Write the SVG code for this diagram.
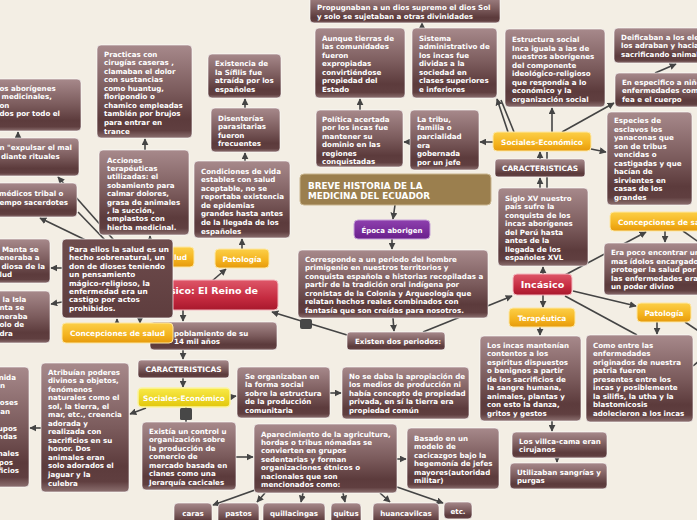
<svg xmlns="http://www.w3.org/2000/svg" width="697" height="520" viewBox="0 0 697 520">
<defs>
<linearGradient id="g" x1="0" y1="0" x2="0" y2="1"><stop offset="0" stop-color="#a7898b"/><stop offset="0.5" stop-color="#7b5b5c"/><stop offset="0.8" stop-color="#5c3b3c"/><stop offset="0.92" stop-color="#603f40"/><stop offset="1" stop-color="#8c7070"/></linearGradient>
<linearGradient id="gd" x1="0" y1="0" x2="0" y2="1"><stop offset="0" stop-color="#6e4c4d"/><stop offset="1" stop-color="#5e3d3e"/></linearGradient>
<linearGradient id="go" x1="0" y1="0" x2="0" y2="1"><stop offset="0" stop-color="#fccf48"/><stop offset="0.6" stop-color="#f4b31e"/><stop offset="1" stop-color="#e69a0c"/></linearGradient>
<linearGradient id="gy" x1="0" y1="0" x2="0" y2="1"><stop offset="0" stop-color="#f9ea48"/><stop offset="1" stop-color="#e2c70b"/></linearGradient>
<linearGradient id="gr" x1="0" y1="0" x2="0" y2="1"><stop offset="0" stop-color="#de5668"/><stop offset="0.6" stop-color="#c52b40"/><stop offset="1" stop-color="#a8182c"/></linearGradient>
<linearGradient id="gp" x1="0" y1="0" x2="0" y2="1"><stop offset="0" stop-color="#8e40ae"/><stop offset="1" stop-color="#6a1f8c"/></linearGradient>
<marker id="a" viewBox="0 0 10 10" refX="9" refY="5" markerWidth="7" markerHeight="7" markerUnits="userSpaceOnUse" orient="auto"><path d="M0,0L10,5L0,10z" fill="#444"/></marker>
</defs>
<style>
.n{fill:url(#g);stroke:#fff;stroke-opacity:.6;stroke-width:1}
.d{fill:url(#gd);stroke:#fff;stroke-opacity:.7;stroke-width:1}
.o{fill:url(#go);stroke:#fde7a3;stroke-width:1}
.y{fill:url(#gy);stroke:#fbf3a0;stroke-width:1.5}
.r{fill:url(#gr);stroke:#f4b8c0;stroke-width:1}
.t{font-family:"DejaVu Sans",Verdana,sans-serif;font-weight:bold;font-size:7.1px;fill:#fff}
.b{font-size:9.5px}
.c{text-anchor:middle}
.k line{stroke:#444;stroke-width:1.6;fill:none}
.sq{fill:#474747}
</style>
<rect width="697" height="520" fill="#f3eee4"/>

<g id="connectors" class="k">
<line x1="395" y1="205" x2="393" y2="219" marker-end="url(#a)"/>
<line x1="392" y1="239" x2="392" y2="249" marker-end="url(#a)"/>
<line x1="393" y1="318" x2="394" y2="331" marker-end="url(#a)"/>
<line x1="423" y1="332" x2="512" y2="296" marker-end="url(#a)"/>
<line x1="347" y1="335" x2="272" y2="312" marker-end="url(#a)"/>
<line x1="212" y1="281" x2="226" y2="269" marker-end="url(#a)"/>
<line x1="242" y1="249" x2="242" y2="239" marker-end="url(#a)"/>
<line x1="245" y1="161" x2="245" y2="153" marker-end="url(#a)"/>
<line x1="245" y1="108" x2="245" y2="99" marker-end="url(#a)"/>
<line x1="183" y1="310" x2="183" y2="321" marker-end="url(#a)"/>
<line x1="183" y1="350" x2="183" y2="359" marker-end="url(#a)"/>
<line x1="183" y1="378" x2="183" y2="387" marker-end="url(#a)"/>
<line x1="230" y1="397" x2="236" y2="396" marker-end="url(#a)"/>
<line x1="330" y1="393" x2="341" y2="393" marker-end="url(#a)"/>
<line x1="146" y1="408" x2="130" y2="414" marker-end="url(#a)"/>
<line x1="41" y1="428" x2="30" y2="428" marker-end="url(#a)"/>
<line x1="186" y1="407" x2="186" y2="422"/>
<line x1="236" y1="457" x2="253" y2="457" marker-end="url(#a)"/>
<line x1="397" y1="459" x2="406" y2="459" marker-end="url(#a)"/>
<line x1="258" y1="489" x2="213" y2="505" marker-end="url(#a)"/>
<line x1="265" y1="493" x2="257" y2="502" marker-end="url(#a)"/>
<line x1="303" y1="493" x2="301" y2="502" marker-end="url(#a)"/>
<line x1="343" y1="493" x2="345" y2="502" marker-end="url(#a)"/>
<line x1="380" y1="493" x2="390" y2="502" marker-end="url(#a)"/>
<line x1="397" y1="487" x2="443" y2="503" marker-end="url(#a)"/>
<line x1="543" y1="274" x2="543" y2="267" marker-end="url(#a)"/>
<line x1="540" y1="188" x2="540" y2="178" marker-end="url(#a)"/>
<line x1="540" y1="159" x2="540" y2="152" marker-end="url(#a)"/>
<line x1="547" y1="188" x2="547" y2="152"/>
<line x1="552" y1="132" x2="552" y2="108" marker-end="url(#a)"/>
<line x1="508" y1="132" x2="497" y2="99" marker-end="url(#a)"/>
<line x1="514" y1="132" x2="501" y2="100"/>
<line x1="493" y1="142" x2="480" y2="142" marker-end="url(#a)"/>
<line x1="410" y1="142" x2="404" y2="142" marker-end="url(#a)"/>
<line x1="360" y1="110" x2="360" y2="99" marker-end="url(#a)"/>
<line x1="422" y1="28" x2="422" y2="23" marker-end="url(#a)"/>
<line x1="562" y1="132" x2="614" y2="103" marker-end="url(#a)"/>
<line x1="655" y1="73" x2="676" y2="64" marker-end="url(#a)"/>
<line x1="591" y1="149" x2="606" y2="152" marker-end="url(#a)"/>
<line x1="565" y1="275" x2="646" y2="232" marker-end="url(#a)"/>
<line x1="665" y1="231" x2="665" y2="242" marker-end="url(#a)"/>
<line x1="683" y1="231" x2="700" y2="243"/>
<line x1="573" y1="291" x2="636" y2="306" marker-end="url(#a)"/>
<line x1="565" y1="296" x2="637" y2="335"/>
<line x1="657" y1="322" x2="657" y2="334" marker-end="url(#a)"/>
<line x1="685" y1="322" x2="700" y2="332"/>
<line x1="700" y1="360" x2="693" y2="366"/>
<line x1="543" y1="295" x2="543" y2="307" marker-end="url(#a)"/>
<line x1="540" y1="327" x2="540" y2="335" marker-end="url(#a)"/>
<line x1="552" y1="421" x2="552" y2="431" marker-end="url(#a)"/>
<line x1="557" y1="458" x2="557" y2="462" marker-end="url(#a)"/>
<line x1="150" y1="247" x2="150" y2="236" marker-end="url(#a)"/>
<line x1="145" y1="150" x2="145" y2="139" marker-end="url(#a)"/>
<line x1="120" y1="247" x2="58" y2="177" marker-end="url(#a)"/>
<line x1="100" y1="247" x2="40" y2="218" marker-end="url(#a)"/>
<line x1="78" y1="212" x2="105" y2="240"/>
<line x1="18" y1="138" x2="18" y2="132" marker-end="url(#a)"/>
<line x1="117" y1="323" x2="117" y2="319" marker-end="url(#a)"/>
<line x1="140" y1="318" x2="140" y2="323" marker-end="url(#a)"/>
<line x1="62" y1="268" x2="51" y2="268" marker-end="url(#a)"/>
<line x1="62" y1="302" x2="51" y2="304" marker-end="url(#a)"/>
</g>

<rect class="sq" x="300" y="319" width="12" height="10" rx="2"/>
<rect class="sq" x="180" y="408" width="12" height="12" rx="1.5"/>

<g id="propugnaban"><rect class="n" x="310" y="-5" width="190" height="28" rx="4"/>
<text class="t" x="317" y="10"><tspan>Propugnaban a un dios supremo el dios Sol</tspan><tspan x="317" dy="8.5">y solo se sujetaban a otras divinidades</tspan></text></g>

<g id="aunque"><rect class="n" x="315" y="28" width="90" height="70" rx="4"/>
<text class="t" x="322" y="40.5"><tspan>Aunque tierras de</tspan><tspan x="322" dy="8.5">las comunidades</tspan><tspan x="322" dy="8.5">fueron</tspan><tspan x="322" dy="8.5">expropiadas</tspan><tspan x="322" dy="8.5">convirtiéndose</tspan><tspan x="322" dy="8.5">propiedad del</tspan><tspan x="322" dy="8.5">Estado</tspan></text></g>

<g id="sistema"><rect class="n" x="412" y="28" width="85" height="70" rx="4"/>
<text class="t" x="419" y="40.5"><tspan>Sistema</tspan><tspan x="419" dy="8.5">administrativo de</tspan><tspan x="419" dy="8.5">los incas fue</tspan><tspan x="419" dy="8.5">dividas a la</tspan><tspan x="419" dy="8.5">sociedad en</tspan><tspan x="419" dy="8.5">clases superiores</tspan><tspan x="419" dy="8.5">e inferiores</tspan></text></g>

<g id="estructura"><rect class="n" x="505" y="29" width="100" height="78" rx="4"/>
<text class="t" x="512" y="42"><tspan>Estructura social</tspan><tspan x="512" dy="8.5">Inca iguala a las de</tspan><tspan x="512" dy="8.5">nuestros aborígenes</tspan><tspan x="512" dy="8.5">del componente</tspan><tspan x="512" dy="8.5">ideológico-religioso</tspan><tspan x="512" dy="8.5">que respondía a lo</tspan><tspan x="512" dy="8.5">económico y la</tspan><tspan x="512" dy="8.5">organización social</tspan></text></g>

<g id="deificaban"><rect class="n" x="614" y="28" width="95" height="35" rx="4"/>
<text class="t" x="621" y="39.5"><tspan>Deificaban a los elementos</tspan><tspan x="621" dy="8.5">los adraban y hacian</tspan><tspan x="621" dy="8.5">sacrificando animales</tspan></text></g>

<g id="especifico"><rect class="n" x="615" y="73" width="95" height="34" rx="4"/>
<text class="t" x="622" y="84.5"><tspan>En especifico a niños</tspan><tspan x="622" dy="8.5">enfermedades como</tspan><tspan x="622" dy="8.5">fea e el cuerpo</tspan></text></g>

<g id="especies"><rect class="n" x="607" y="112" width="85" height="93" rx="4"/>
<text class="t" x="614" y="123" fill="#f2e4e4"><tspan>Especies de</tspan><tspan x="614" dy="8.5">esclavos los</tspan><tspan x="614" dy="8.5">yanaconas que</tspan><tspan x="614" dy="8.5">son de tribus</tspan><tspan x="614" dy="8.5">vencidas o</tspan><tspan x="614" dy="8.5">castigadas y que</tspan><tspan x="614" dy="8.5">hacían de</tspan><tspan x="614" dy="8.5">sirvientes en</tspan><tspan x="614" dy="8.5">casas de los</tspan><tspan x="614" dy="8.5">grandes</tspan></text></g>

<g id="sociales-r"><rect class="o" x="493" y="132" width="98" height="19" rx="4"/>
<text class="t c" x="542" y="144.5" style="font-size:7.4px">Sociales-Económico</text></g>

<g id="caract-r"><rect class="n" x="495" y="159" width="90" height="18" rx="3"/>
<text class="t c" x="540" y="171" style="font-size:7.4px">CARACTERISTICAS</text></g>

<g id="siglo"><rect class="n" x="498" y="188" width="90" height="78" rx="4"/>
<text class="t" x="505" y="200.5"><tspan>Siglo XV nuestro</tspan><tspan x="505" dy="8.5">país sufre la</tspan><tspan x="505" dy="8.5">conquista de los</tspan><tspan x="505" dy="8.5">incas aborígenes</tspan><tspan x="505" dy="8.5">del Perú hasta</tspan><tspan x="505" dy="8.5">antes de la</tspan><tspan x="505" dy="8.5">llegada de los</tspan><tspan x="505" dy="8.5">españoles XVL</tspan></text></g>

<g id="incasico"><rect class="r" x="513" y="274" width="59" height="21" rx="4"/>
<text class="t b c" x="542.5" y="288">Incásico</text></g>

<g id="concep-r"><rect class="o" x="610" y="212" width="110" height="19" rx="4"/>
<text class="t" x="618" y="224.5" style="font-size:7.4px">Concepciones de salud</text></g>

<g id="erapoco"><rect class="n" x="604" y="243" width="110" height="52" rx="4"/>
<text class="t" x="611" y="255"><tspan>Era poco encontrar uno o</tspan><tspan x="611" dy="8.5">mas ídolos encargados de</tspan><tspan x="611" dy="8.5">proteger la salud por que</tspan><tspan x="611" dy="8.5">las enfermedades eran</tspan><tspan x="611" dy="8.5">un poder divino</tspan></text></g>

<g id="terapeutica"><rect class="o" x="509" y="308" width="66" height="19" rx="4"/>
<text class="t c" x="542" y="320.5" style="font-size:7.4px">Terapéutica</text></g>

<g id="patologia-r"><rect class="o" x="637" y="303" width="54" height="19" rx="4"/>
<text class="t c" x="664" y="315.5" style="font-size:7.4px">Patología</text></g>

<g id="losincas"><rect class="n" x="480" y="336" width="101" height="85" rx="4"/>
<text class="t" x="487" y="347.5"><tspan>Los incas mantenían</tspan><tspan x="487" dy="8.5">contentos a los</tspan><tspan x="487" dy="8.5">espíritus dispuestos</tspan><tspan x="487" dy="8.5">o benignos a partir</tspan><tspan x="487" dy="8.5">de los sacrificios de</tspan><tspan x="487" dy="8.5">la sangre humana,</tspan><tspan x="487" dy="8.5">animales, plantas y</tspan><tspan x="487" dy="8.5">con esto la danza,</tspan><tspan x="487" dy="8.5">gritos y gestos</tspan></text></g>

<g id="comoentre"><rect class="n" x="586" y="335" width="107" height="87" rx="4"/>
<text class="t" x="593" y="347.5"><tspan>Como entre las</tspan><tspan x="593" dy="8.5">enfermedades</tspan><tspan x="593" dy="8.5">originados de nuestra</tspan><tspan x="593" dy="8.5">patria fueron</tspan><tspan x="593" dy="8.5">presentes entre los</tspan><tspan x="593" dy="8.5">incas y posiblemente</tspan><tspan x="593" dy="8.5">la silifis, la utha y la</tspan><tspan x="593" dy="8.5">blastomicosis</tspan><tspan x="593" dy="8.5">adolecieron a los incas</tspan></text></g>

<g id="villca"><rect class="n" x="512" y="432" width="95" height="26" rx="4"/>
<text class="t" x="519" y="443.5"><tspan>Los villca-cama eran</tspan><tspan x="519" dy="8.5">cirujanos</tspan></text></g>

<g id="utilizaban"><rect class="n" x="510" y="463" width="97" height="26" rx="4"/>
<text class="t" x="517" y="474.5"><tspan>Utilizaban sangrías y</tspan><tspan x="517" dy="8.5">purgas</tspan></text></g>

<g id="titulo"><rect x="300" y="174" width="191" height="31" rx="4" fill="#9b7f4e" stroke="#c9b58e" stroke-width="1"/>
<text class="t" x="308" y="188.5" style="font-size:8.8px"><tspan>BREVE HISTORIA DE LA</tspan><tspan x="308" dy="10.5">MEDICINA DEL ECUADOR</tspan></text></g>

<g id="epoca"><rect x="354" y="220" width="76" height="19" rx="4" fill="url(#gp)" stroke="#c7a3d8" stroke-width="1"/>
<text class="t c" x="392" y="232.5" style="font-size:7px">Época aborigen</text></g>

<g id="corresponde"><rect class="n" x="298" y="250" width="190" height="68" rx="4"/>
<text class="t" x="305" y="261.5"><tspan>Corresponde a un periodo del hombre</tspan><tspan x="305" dy="8.5">primigenio en nuestros territorios y</tspan><tspan x="305" dy="8.5">conquista española e historias recopiladas a</tspan><tspan x="305" dy="8.5">partir de la tradición oral indígena por</tspan><tspan x="305" dy="8.5">cronistas de la Colonia y Arqueología que</tspan><tspan x="305" dy="8.5">relatan hechos reales combinados con</tspan><tspan x="305" dy="8.5">fantasía que son creídas para nosotros.</tspan></text></g>

<g id="existen"><rect class="n" x="347" y="332" width="98" height="18" rx="3"/>
<text class="t" x="355" y="344">Existen dos periodos:</text></g>

<g id="preincasico"><rect class="r" x="95" y="280" width="183" height="30" rx="4"/>
<text class="t b" x="258" y="293.5" text-anchor="end">sico: El Reino de</text></g>

<g id="salud-h"><rect class="o" x="100" y="247" width="94" height="20" rx="4"/>
<text class="t" x="187" y="260" text-anchor="end" style="font-size:7.4px">lud</text></g>

<g id="poblamiento"><rect class="n" x="150" y="322" width="127" height="28" rx="4"/>
<text class="t" x="174" y="335.5"><tspan>poblamiento de su</tspan><tspan x="174" dy="8.5">14 mil años</tspan></text></g>

<g id="paraellos"><rect class="d" x="62" y="239" width="111" height="79" rx="4"/>
<text class="t" x="69" y="252" style="font-size:7.3px"><tspan>Para ellos la salud es un</tspan><tspan x="69" dy="8.4">hecho sobrenatural, un</tspan><tspan x="69" dy="8.4">don de dioses  teniendo</tspan><tspan x="69" dy="8.4">un pensamiento</tspan><tspan x="69" dy="8.4">mágico-religioso, la</tspan><tspan x="69" dy="8.4">enfermedad era un</tspan><tspan x="69" dy="8.4">castigo por actos</tspan><tspan x="69" dy="8.4">prohibidos.</tspan></text></g>

<g id="concep-l"><rect class="o" x="62" y="323" width="111" height="20" rx="4"/>
<text class="t c" x="117.5" y="336" style="font-size:7.4px">Concepciones de salud</text></g>

<g id="caract-l"><rect class="n" x="138" y="360" width="91" height="18" rx="3"/>
<text class="t c" x="183.5" y="371.5" style="font-size:7.4px">CARACTERISTICAS</text></g>

<g id="sociales-l"><rect class="y" x="138" y="388" width="92" height="19" rx="4"/>
<text class="t c" x="184" y="400.5" style="font-size:7.4px">Sociales-Económico</text></g>

<g id="atribuian"><rect class="n" x="41" y="363" width="88" height="129" rx="4"/>
<text class="t" x="48" y="374.5"><tspan>Atribuían poderes</tspan><tspan x="48" dy="8.54">divinos a objetos,</tspan><tspan x="48" dy="8.54">fenómenos</tspan><tspan x="48" dy="8.54">naturales como el</tspan><tspan x="48" dy="8.54">sol, la tierra, el</tspan><tspan x="48" dy="8.54">mar, etc., creencia</tspan><tspan x="48" dy="8.54">adorada y</tspan><tspan x="48" dy="8.54">realizada con</tspan><tspan x="48" dy="8.54">sacrificios en su</tspan><tspan x="48" dy="8.54">honor. Dos</tspan><tspan x="48" dy="8.54">animales eran</tspan><tspan x="48" dy="8.54">solo adorados el</tspan><tspan x="48" dy="8.54">jaguar y la</tspan><tspan x="48" dy="8.54">culebra</tspan></text></g>

<g id="izq-abajo"><rect class="n" x="-20" y="367" width="49" height="120" rx="4"/>
<g class="t" text-anchor="end"><text x="16" y="379.5">nida</text><text x="5" y="388">n</text><text x="18" y="405">oses</text><text x="10" y="413.5">an</text><text x="17" y="430.5">upos</text><text x="17" y="439">ndas</text><text x="19" y="456">nales</text><text x="13" y="464.5">pos</text><text x="19" y="473">ficios</text></g></g>

<g id="existia"><rect class="n" x="142" y="422" width="94" height="68" rx="4"/>
<text class="t" x="149" y="433.5"><tspan>Existía un control u</tspan><tspan x="149" dy="8.5">organización sobre</tspan><tspan x="149" dy="8.5">la producción de</tspan><tspan x="149" dy="8.5">comercio de</tspan><tspan x="149" dy="8.5">mercado basada en</tspan><tspan x="149" dy="8.5">clanes como una</tspan><tspan x="149" dy="8.5">Jerarquía cacicales</tspan></text></g>

<g id="seorganizaban"><rect class="n" x="237" y="367" width="93" height="51" rx="4"/>
<text class="t" x="245" y="378.5"><tspan>Se organizaban en</tspan><tspan x="245" dy="8.5">la forma social</tspan><tspan x="245" dy="8.5">sobre la estructura</tspan><tspan x="245" dy="8.5">de la producción</tspan><tspan x="245" dy="8.5">comunitaria</tspan></text></g>

<g id="nosedaba"><rect class="n" x="342" y="367" width="127" height="52" rx="4"/>
<text class="t" x="349" y="378.5"><tspan>No se daba la apropiación de</tspan><tspan x="349" dy="8.5">los medios de producción ni</tspan><tspan x="349" dy="8.5">había concepto de propiedad</tspan><tspan x="349" dy="8.5">privada, en sí la tierra era</tspan><tspan x="349" dy="8.5">propiedad común</tspan></text></g>

<g id="aparecimiento"><rect class="n" x="254" y="424" width="143" height="69" rx="4"/>
<text class="t" x="261" y="436.5"><tspan>Aparecimiento de la agricultura,</tspan><tspan x="261" dy="8.45">hordas o tribus nómadas se</tspan><tspan x="261" dy="8.45">convierten en grupos</tspan><tspan x="261" dy="8.45">sedentarias y forman</tspan><tspan x="261" dy="8.45">organizaciones étnicos o</tspan><tspan x="261" dy="8.45">nacionales que son</tspan><tspan x="261" dy="8.45">mencionados como:</tspan></text></g>

<g id="basado"><rect class="n" x="407" y="428" width="92" height="61" rx="4"/>
<text class="t" x="414" y="440.5"><tspan>Basado en un</tspan><tspan x="414" dy="8.5">modelo de</tspan><tspan x="414" dy="8.5">cacicazgos bajo la</tspan><tspan x="414" dy="8.5">hegemonía de jefes</tspan><tspan x="414" dy="8.5">mayores(autoridad</tspan><tspan x="414" dy="8.5">militar)</tspan></text></g>

<g id="caras"><rect class="n" x="174" y="503" width="38" height="22" rx="4"/><text class="t c" x="193" y="515.5">caras</text></g>
<g id="pastos"><rect class="n" x="218" y="503" width="41" height="22" rx="4"/><text class="t c" x="238.5" y="515.5">pastos</text></g>
<g id="quillacingas"><rect class="n" x="263" y="503" width="62" height="22" rx="4"/><text class="t c" x="294" y="515.5">quillacingas</text></g>
<g id="quitus"><rect class="n" x="331" y="503" width="30" height="22" rx="4"/><text class="t c" x="346" y="515.5">quitus</text></g>
<g id="huancavilcas"><rect class="n" x="373" y="503" width="66" height="22" rx="4"/><text class="t c" x="406" y="515.5">huancavilcas</text></g>
<g id="etc"><rect class="n" x="444" y="502" width="28" height="17" rx="4"/><text class="t c" x="458" y="513.5">etc.</text></g>

<g id="aborigenes"><rect class="n" x="-20" y="79" width="101" height="52" rx="4"/>
<text class="t" x="-0.5" y="90.6"><tspan>os aborígenes</tspan><tspan x="1.5" dy="8.5">medicinales,</tspan><tspan x="-0.5" dy="8.5">on</tspan><tspan x="-0.5" dy="8.5">dos por todo el</tspan></text></g>

<g id="expulsar"><rect class="n" x="-20" y="138" width="99" height="38" rx="4"/>
<text class="t" x="-0.5" y="149.6"><tspan>n "expulsar el mal</tspan><tspan x="1" dy="9">diante rituales</tspan></text></g>

<g id="medicos"><rect class="n" x="-20" y="183" width="97" height="34" rx="4"/>
<text class="t" x="-1" y="195.6"><tspan>médicos tribal o</tspan><tspan x="-0.5" dy="9">empo sacerdotes</tspan></text></g>

<g id="manta"><rect class="n" x="-20" y="239" width="70" height="44" rx="4"/>
<text class="t" x="2" y="251.6"><tspan>Manta se</tspan><tspan x="-0.5" dy="8.5">eneraba a</tspan><tspan x="1.5" dy="8.5">diosa de la</tspan><tspan x="-0.5" dy="8.5">lud</tspan></text></g>

<g id="isla"><rect class="n" x="-20" y="291" width="70" height="52" rx="4"/>
<text class="t" x="2.5" y="301.6"><tspan>la Isla</tspan><tspan x="-0.5" dy="8.5">nta se</tspan><tspan x="-0.5" dy="8.5">neraba</tspan><tspan x="-0.5" dy="8.5">olo de</tspan><tspan x="-0.5" dy="8.5">dra</tspan></text></g>

<g id="practicas"><rect class="n" x="97" y="45" width="95" height="93" rx="4"/>
<text class="t" x="104" y="56.6"><tspan>Practicas con</tspan><tspan x="104" dy="8.55">cirugías caseras ,</tspan><tspan x="104" dy="8.55">clamaban el dolor</tspan><tspan x="104" dy="8.55">con sustancias</tspan><tspan x="104" dy="8.55">como huantug,</tspan><tspan x="104" dy="8.55">floripondio o</tspan><tspan x="104" dy="8.55">chamico empleadas</tspan><tspan x="104" dy="8.55">también por brujos</tspan><tspan x="104" dy="8.55">para entrar en</tspan><tspan x="104" dy="8.55">trance</tspan></text></g>

<g id="acciones"><rect class="n" x="99" y="150" width="90" height="85" rx="4"/>
<text class="t" x="107" y="162.6"><tspan>Acciones</tspan><tspan x="107" dy="8.4">terapéuticas</tspan><tspan x="107" dy="8.4">utilizadas: el</tspan><tspan x="107" dy="8.4">sobamiento para</tspan><tspan x="107" dy="8.4">calmar dolores,</tspan><tspan x="107" dy="8.4">grasa de animales</tspan><tspan x="107" dy="8.4">, la succión,</tspan><tspan x="107" dy="8.4">emplastos con</tspan><tspan x="107" dy="8.4">hierba medicinal.</tspan></text></g>

<g id="existencia"><rect class="n" x="208" y="54" width="73" height="44" rx="4"/>
<text class="t" x="215" y="66"><tspan>Existencia de</tspan><tspan x="215" dy="8.6">la Sífilis fue</tspan><tspan x="215" dy="8.6">atraída por los</tspan><tspan x="215" dy="8.6">españoles</tspan></text></g>

<g id="disenterias"><rect class="n" x="211" y="108" width="69" height="44" rx="4"/>
<text class="t" x="218" y="120.6"><tspan>Disenterías</tspan><tspan x="218" dy="8.5">parasitarias</tspan><tspan x="218" dy="8.5">fueron</tspan><tspan x="218" dy="8.5">frecuentes</tspan></text></g>

<g id="condiciones"><rect class="n" x="194" y="161" width="96" height="77" rx="4"/>
<text class="t" x="201" y="173.6"><tspan>Condiciones de vida</tspan><tspan x="201" dy="8.57">estables con salud</tspan><tspan x="201" dy="8.57">aceptable, no se</tspan><tspan x="201" dy="8.57">reportaba existencia</tspan><tspan x="201" dy="8.57">de epidemias</tspan><tspan x="201" dy="8.57">grandes hasta antes</tspan><tspan x="201" dy="8.57">de la llegada de los</tspan><tspan x="201" dy="8.57">españoles</tspan></text></g>

<g id="patologia-l"><rect class="o" x="215" y="249" width="54" height="19" rx="4"/>
<text class="t c" x="242" y="261.5" style="font-size:7.4px">Patología</text></g>

<g id="politica"><rect class="n" x="316" y="110" width="87" height="57" rx="4"/>
<text class="t" x="322" y="121.8"><tspan>Política acertada</tspan><tspan x="322" dy="8.5">por los incas fue</tspan><tspan x="322" dy="8.5">mantener su</tspan><tspan x="322" dy="8.5">dominio en las</tspan><tspan x="322" dy="8.5">regiones</tspan><tspan x="322" dy="8.5">conquistadas</tspan></text></g>

<g id="latribu"><rect class="n" x="410" y="110" width="69" height="60" rx="4"/>
<text class="t" x="417" y="121.8"><tspan>La tribu,</tspan><tspan x="417" dy="8.6">familia o</tspan><tspan x="417" dy="8.6">parcialidad</tspan><tspan x="417" dy="8.6">era</tspan><tspan x="417" dy="8.6">gobernada</tspan><tspan x="417" dy="8.6">por un jefe</tspan></text></g>
</svg>
